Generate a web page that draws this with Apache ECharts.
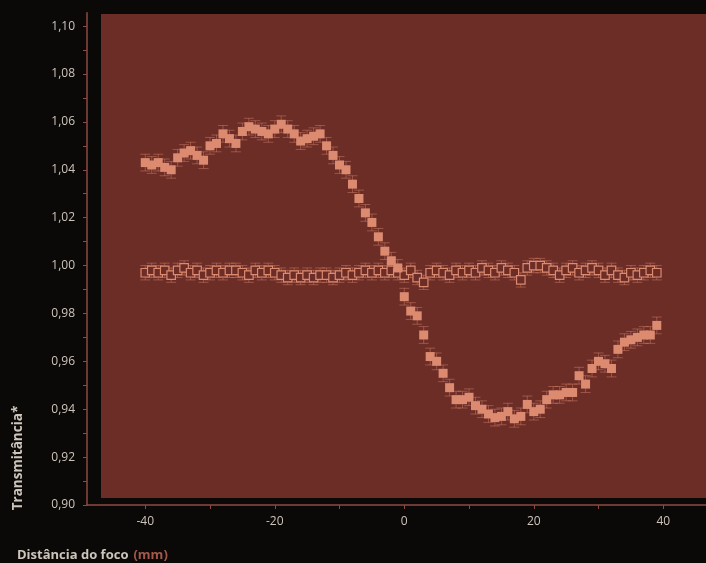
<!DOCTYPE html>
<html>
<head>
<meta charset="utf-8">
<script src="https://cdn.jsdelivr.net/npm/echarts@6/dist/echarts.min.js"></script>
<style>
html,body{margin:0;padding:0;background:#0b0908;}
#chart{width:706px;height:563px;}
</style>
</head>
<body>
<div id="chart"></div>
<script>
// Distance from focus (mm)
const distances = [-40,-39,-38,-37,-36,-35,-34,-33,-32,-31,-30,-29,-28,-27,-26,-25,-24,-23,-22,-21,
  -20,-19,-18,-17,-16,-15,-14,-13,-12,-11,-10,-9,-8,-7,-6,-5,-4,-3,-2,-1,
  0,1,2,3,4,5,6,7,8,9,10,11,12,13,14,15,16,17,18,19,
  20,21,22,23,24,25,26,27,28,29,30,31,32,33,34,35,36,37,38,39];
// Closed-aperture (filled squares)
const closedT = [1.043,1.042,1.043,1.041,1.040,1.045,1.047,1.048,1.046,1.044,
  1.050,1.051,1.055,1.053,1.051,1.056,1.058,1.057,1.056,1.055,
  1.057,1.059,1.057,1.055,1.052,1.053,1.054,1.055,1.050,1.046,
  1.042,1.040,1.034,1.028,1.022,1.018,1.012,1.006,1.002,0.999,
  0.987,0.981,0.979,0.971,0.962,0.960,0.955,0.949,0.944,0.944,
  0.945,0.9415,0.940,0.938,0.9365,0.937,0.939,0.936,0.937,0.942,
  0.939,0.940,0.944,0.946,0.946,0.947,0.947,0.954,0.9505,0.957,
  0.960,0.959,0.957,0.965,0.968,0.969,0.970,0.971,0.971,0.975];
// Open-aperture (hollow squares)
const openT = [0.997,0.998,0.997,0.998,0.996,0.998,0.999,0.997,0.998,0.996,
  0.997,0.998,0.997,0.998,0.998,0.997,0.996,0.998,0.997,0.998,
  0.997,0.996,0.995,0.996,0.995,0.996,0.995,0.996,0.996,0.995,
  0.996,0.997,0.996,0.997,0.998,0.997,0.998,0.997,0.998,0.997,
  0.996,0.998,0.995,0.993,0.997,0.998,0.997,0.996,0.998,0.997,
  0.998,0.997,0.999,0.998,0.997,0.999,0.998,0.997,0.994,0.999,
  1.000,1.000,0.999,0.998,0.996,0.998,0.999,0.997,0.998,0.999,
  0.998,0.996,0.998,0.996,0.995,0.997,0.996,0.997,0.998,0.997];
const ERR_CLOSED = 0.0035;
const ERR_OPEN = 0.003;
const yLabelValues = [0.90,0.92,0.94,0.96,0.98,1.00,1.02,1.04,1.06,1.08,1.10];
const yTickValues = [0.90,0.91,0.92,0.93,0.94,0.95,0.96,0.97,0.98,0.99,1.00,1.01,1.02,1.03,1.04,1.05,1.06,1.07,1.08,1.09,1.10];
const xLabelValues = [-40,-20,0,20,40];
const xTickValues = [-40,-30,-20,-10,0,10,20,30,40];

const MARK = '#dc8a70';
const PANEL = '#6c2d27';
const AXIS = '#8e4a40';
const TEXT = '#cdc4ba';

const closedData = distances.map((d,i)=>[d, closedT[i]]);
const openData = distances.map((d,i)=>[d, openT[i]]);
const closedErr = distances.map((d,i)=>[d, closedT[i], ERR_CLOSED]);
const openErr = distances.map((d,i)=>[d, openT[i], ERR_OPEN]);

function errRender(params, api){
  const x = api.value(0), y = api.value(1), e = api.value(2);
  const hi = api.coord([x, y + e]);
  const lo = api.coord([x, y - e]);
  const hw = 5;
  const st = {stroke: MARK, lineWidth: 0.8, opacity: 0.55};
  return {type:'group', children:[
    {type:'line', shape:{x1:hi[0], y1:hi[1], x2:lo[0], y2:lo[1]}, style:st},
    {type:'line', shape:{x1:hi[0]-hw, y1:hi[1], x2:hi[0]+hw, y2:hi[1]}, style:st},
    {type:'line', shape:{x1:lo[0]-hw, y1:lo[1], x2:lo[0]+hw, y2:lo[1]}, style:st}
  ]};
}

const chart = echarts.init(document.getElementById('chart'));
chart.setOption({
  backgroundColor: '#0b0908',
  animation: false,
  title: {
    left: 12, top: 541,
    text: '{a|Distância do foco} {b|(mm)}',
    textStyle: {
      rich: {
        a: {color: TEXT, fontSize: 13, fontWeight: 'bold', fontFamily: 'Open Sans'},
        b: {color: '#a3584b', fontSize: 13, fontFamily: 'Open Sans'}
      }
    }
  },
  graphic: [
    {type:'rect', z: 0, silent: true, shape:{x:101, y:14, width:620, height:484}, style:{fill: PANEL}},
    {type:'text', z: 10, x: 18, y: 458, rotation: Math.PI/2,
     style:{text:'Transmitância*', fill: TEXT, font:'bold 13.5px "Open Sans"', textAlign:'center', textVerticalAlign:'middle'}}
  ],
  grid: {left: 87, top: 12.7, bottom: 58, right: 0, containLabel: false},
  xAxis: {
    type: 'value', min: -49, max: 46.6,
    axisLine: {show: true, onZero: false, lineStyle: {color: AXIS, width: 1.5}},
    axisTick: {show: true, length: 4, customValues: xTickValues, lineStyle: {color: AXIS}},
    axisLabel: {customValues: xLabelValues, color: TEXT, fontSize: 12, fontFamily: 'Open Sans', margin: 11},
    splitLine: {show: false}
  },
  yAxis: {
    type: 'value', min: 0.90, max: 1.1056,
    axisLine: {show: true, onZero: false, lineStyle: {color: AXIS, width: 1.5}},
    axisTick: {show: true, length: 4, customValues: yTickValues, lineStyle: {color: AXIS}},
    axisLabel: {customValues: yLabelValues, color: TEXT, fontSize: 12, fontFamily: 'Open Sans', margin: 12,
      formatter: v => v.toFixed(2).replace('.', ',')},
    splitLine: {show: false}
  },
  series: [
    {type:'custom', renderItem: errRender, data: openErr, z: 3, silent: true},
    {type:'custom', renderItem: errRender, data: closedErr, z: 3, silent: true},
    {type:'scatter', data: openData, symbol:'rect', symbolSize: 8.5, z: 4,
     itemStyle:{color: PANEL, borderColor: MARK, borderWidth: 1.2, opacity: 1}},
    {type:'scatter', data: closedData, symbol:'rect', symbolSize: 9, z: 5,
     itemStyle:{color: MARK, opacity: 1}}
  ]
});
</script>
</body>
</html>
